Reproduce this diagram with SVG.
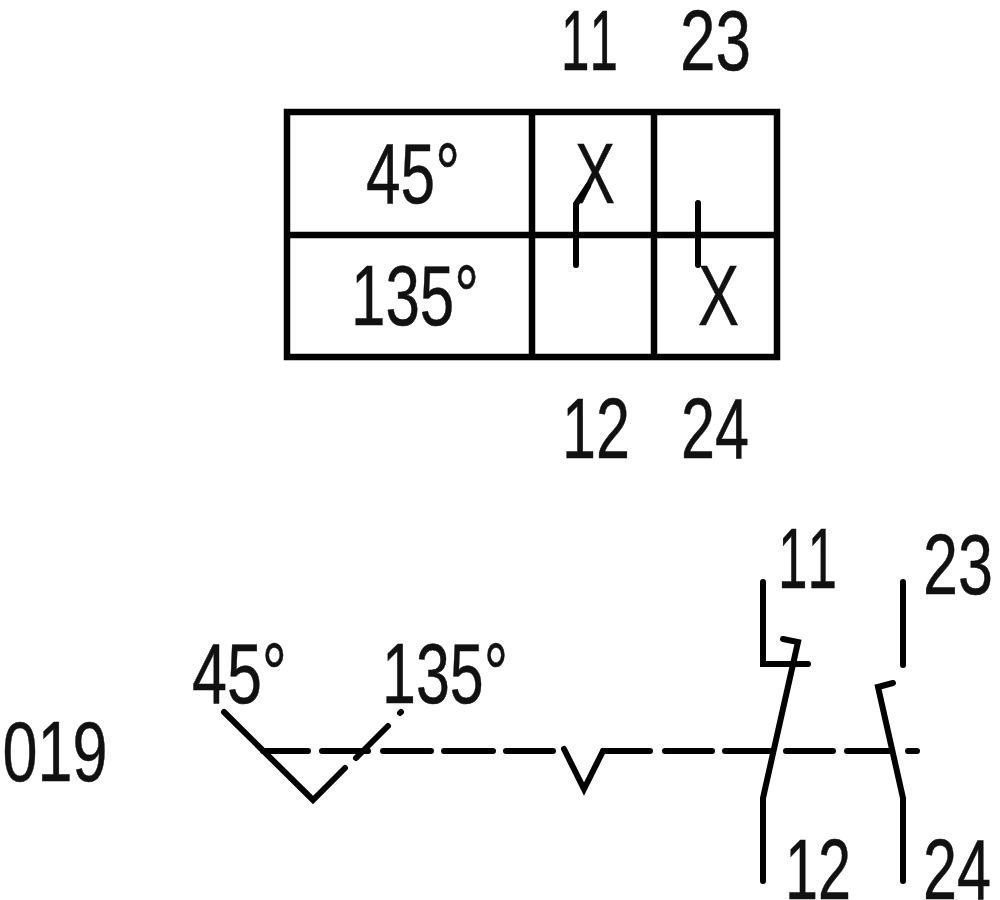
<svg xmlns="http://www.w3.org/2000/svg" width="1000" height="900" viewBox="0 0 1000 900">
<style>
.l{fill:none;stroke:#000;stroke-width:6;stroke-linecap:round;stroke-linejoin:miter}
.b{stroke-width:6.5;stroke-linecap:butt}
.t{fill:#111;stroke:#111;stroke-width:.5;font-family:"Liberation Sans",Arial,sans-serif;font-size:85px}
.nk{font-kerning:none}
</style>
<rect width="1000" height="900" fill="#fff"/>
<g id="table" class="l b">
<rect x="287" y="112" width="490" height="245"/>
<path d="M287 235H777M532 112V357M654 112V357"/>
</g>
<g id="table-labels" class="t">
<text class="nk" x="561" y="70" textLength="57" lengthAdjust="spacingAndGlyphs">11</text>
<text x="680" y="70" textLength="71" lengthAdjust="spacingAndGlyphs">23</text>
<text x="366" y="203" textLength="94" lengthAdjust="spacingAndGlyphs">45°</text>
<text x="351" y="325" textLength="128" lengthAdjust="spacingAndGlyphs">135°</text>
<text x="562" y="458" textLength="68" lengthAdjust="spacingAndGlyphs">12</text>
<text x="681" y="458" textLength="68" lengthAdjust="spacingAndGlyphs">24</text>
<text x="575" y="203" textLength="40" lengthAdjust="spacingAndGlyphs">X</text>
<text x="698" y="325" textLength="41" lengthAdjust="spacingAndGlyphs">X</text>
</g>
<g id="table-contacts" class="l">
<path d="M576 265V204L588 186"/>
<path d="M698 203V265"/>
</g>
<g id="connectors" class="l">
<path d="M263 751H308M322 751H368M383 751H431M444 751H493M506 751H553M603 751H650M665 751H712M725 751H770M786 751H833M847 751H890M908 751H917"/>
</g>
<g id="cam" class="l">
<path d="M224 712L313 800L345 768"/>
<path d="M356 758L388 726"/>
<path d="M400 713L401 712"/>
<path d="M564 749L584 789L603 751"/>
</g>
<g id="contact-11-12" class="l">
<path d="M763 582V664H808"/>
<path d="M783 639L798 642L763 798V881"/>
</g>
<g id="contact-23-24" class="l">
<path d="M903 582V665"/>
<path d="M893 683L878 687L903 798V881"/>
</g>
<g id="schematic-labels" class="t">
<text class="nk" x="778" y="588" textLength="59" lengthAdjust="spacingAndGlyphs">11</text>
<text x="923" y="594" textLength="70" lengthAdjust="spacingAndGlyphs">23</text>
<text x="192" y="703" textLength="95" lengthAdjust="spacingAndGlyphs">45°</text>
<text x="382" y="703" textLength="126" lengthAdjust="spacingAndGlyphs">135°</text>
<text x="2.5" y="781" textLength="105" lengthAdjust="spacingAndGlyphs">019</text>
<text x="785" y="899" textLength="66" lengthAdjust="spacingAndGlyphs">12</text>
<text x="923" y="899" textLength="68" lengthAdjust="spacingAndGlyphs">24</text>
</g>
</svg>
